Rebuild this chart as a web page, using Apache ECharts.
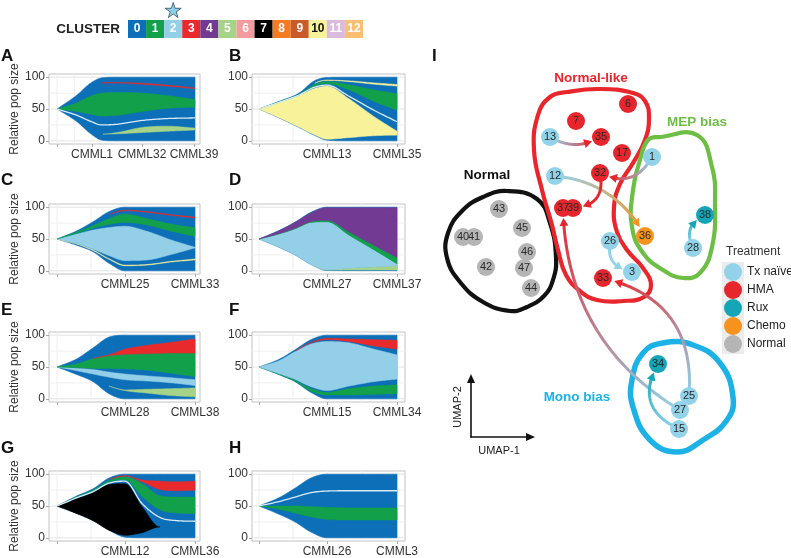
<!DOCTYPE html>
<html><head><meta charset="utf-8">
<script src="https://cdn.jsdelivr.net/npm/echarts@6/dist/echarts.min.js"></script>
<style>html,body{margin:0;padding:0;background:#fff}#c{width:791px;height:558px}</style>
</head><body><div id="c"></div>
<script>
const FONT = "'Liberation Sans', Arial, Helvetica, sans-serif";

// ---- cluster legend ----
const clusterIds = ['0','1','2','3','4','5','6','7','8','9','10','11','12'];
const clusterColors = ['#0d6fb8','#12a04b','#93cfe7','#e82a2c','#733a93','#a5d388','#f39ca0','#000000','#f47b22','#c85b28','#f8f29b','#dcbcdc','#fbbf72'];
const starCluster = '2';

// ---- fish plots: x = position after start, edges = clone boundaries (relative pop size), bottom to top ----
const A_x = [0, 20, 33, 45, 60, 85, 110, 138];
const A_edges = [
  [50, 30, 12, 1, 0, 0, 0, 0],
  [50, 34, 18, 10.5, 11, 13, 15, 17],
  [50, 34, 18, 10.5, 13, 21, 23, 20],
  [50, 40, 31, 25, 26, 32, 35, 36],
  [50, 46, 42, 39, 40, 46, 51, 53],
  [50, 60, 70, 75, 76, 75, 71, 65],
  [50, 66, 83, 91, 91, 89, 86, 82],
  [50, 66, 83, 91, 91.5, 90.5, 87.5, 83],
  [50, 72, 90, 99, 100, 100, 100, 100]
];
const A_fill = [0, 5, 0, 0, 1, 0, 3, 0];
const A_white = [3];
const A_ticks = [0, 35, 85, 137];
const A_labels = ['', 'CMML1', 'CMML32', 'CMML39'];

const B_x = [0, 20, 40, 55, 68, 90, 115, 138];
const B_edges = [
  [50, 36, 21, 9, 1, 0, 0, 0],
  [50, 36.3, 21.5, 9.8, 2.5, 5, 8, 9],
  [50, 60, 71, 82, 86, 66, 38, 15],
  [50, 60.5, 72, 84, 87.5, 70, 48, 30],
  [50, 61, 72.5, 86, 90, 80, 62, 48],
  [50, 61.2, 73, 88, 93, 88, 80, 74],
  [50, 61.5, 73.5, 90, 95, 93, 89, 86],
  [50, 61.5, 73.5, 90, 95.5, 94.2, 91, 88.5],
  [50, 62, 75, 94, 99.5, 100, 100, 100]
];
const B_fill = [0, 10, 0, 0, 1, 0, 10, 0];
const B_white = [3];
const B_ticks = [0, 68, 138];
const B_labels = ['', 'CMML13', 'CMML35'];

const C_x = [0, 20, 36, 52, 68, 90, 115, 138];
const C_edges = [
  [50, 40, 30, 12, 0, 0, 0, 0],
  [50, 42, 32, 18, 8, 9, 14, 17],
  [50, 42.3, 32.6, 19, 9, 10, 15, 18.5],
  [50, 43, 34, 24, 16, 17, 26, 36],
  [50, 58, 64, 68, 70, 62, 48, 37],
  [50, 59, 67, 73, 76, 72, 62, 54],
  [50, 61, 71, 82, 89, 82, 73, 68],
  [50, 62, 74, 88, 94.5, 92, 87, 83],
  [50, 62, 74, 88, 95.3, 93, 88, 84.5],
  [50, 63, 77, 93, 100, 100, 100, 100]
];
const C_fill = [0, 10, 0, 2, 0, 1, 0, 3, 0];
const C_white = [];
const C_ticks = [0, 68, 138];
const C_labels = ['', 'CMML25', 'CMML33'];

const D_x = [0, 20, 36, 52, 68, 90, 115, 138];
const D_edges = [
  [50, 37, 25, 10, 0.5, 0.3, 0.3, 0.3],
  [50, 37, 25, 10, 1.2, 1.2, 1.2, 1.2],
  [50, 37, 25, 10, 1.8, 4, 6, 8],
  [50, 58, 66, 76, 77, 56, 33, 11],
  [50, 58.5, 67, 77.5, 79.5, 61, 40, 21],
  [50, 63, 76, 91, 99.3, 99.3, 99.3, 99.3],
  [50, 63.3, 76.5, 92, 100, 100, 100, 100]
];
const D_fill = [0, 5, 2, 1, 4, 0];
const D_white = [];
const D_ticks = [0, 68, 138];
const D_labels = ['', 'CMML27', 'CMML37'];

const E_x = [0, 20, 36, 52, 68, 90, 115, 138];
const E_edges = [
  [50, 38, 27, 8, 0, 0, 0, 0],
  [50, 40, 30, 20, 13, 9, 5, 3],
  [50, 40, 30, 20, 14, 15, 16, 17],
  [50, 44, 39, 34, 30, 28, 25, 21],
  [50, 48, 46, 42, 39, 36, 33, 30],
  [50, 49, 48, 47.5, 47, 45, 40, 35],
  [50, 55, 63, 68, 70, 71, 72, 72],
  [50, 55, 63, 69, 78, 84, 89, 94],
  [50, 63, 80, 97, 100, 100, 100, 100]
];
const E_fill = [0, 5, 0, 2, 0, 1, 3, 0];
const E_white = [];
const E_ticks = [0, 68, 138];
const E_labels = ['', 'CMML28', 'CMML38'];

const F_x = [0, 20, 36, 52, 68, 90, 115, 138];
const F_edges = [
  [50, 38, 27, 10, 0, 0, 0, 0],
  [50, 38.3, 27.6, 12, 6, 6, 7, 8],
  [50, 39, 29, 16, 10, 16, 20, 22],
  [50, 39.5, 30.5, 19, 13, 20, 27, 31],
  [50, 60, 74, 86, 90, 88, 78, 69],
  [50, 61, 75, 88, 93, 90, 83, 78],
  [50, 61, 75, 88.5, 95, 94, 93, 92],
  [50, 62, 77, 93, 100, 100, 100, 100]
];
const F_fill = [0, 1, 0, 2, 0, 3, 0];
const F_white = [];
const F_ticks = [0, 68, 138];
const F_labels = ['', 'CMML15', 'CMML34'];

const G_x = [0, 20, 36, 52, 68, 85, 103, 120, 138];
const G_edges = [
  [50, 38, 27, 12, 1, 0, 0, 0, 0],
  [50, 38, 27, 12, 4, 8, 17, 17, 17],
  [50, 62, 71, 84, 85, 49, 17, 17, 17],
  [50, 63, 72.5, 86, 89, 54, 32, 27, 26],
  [50, 64, 74, 88, 91, 65, 44, 39, 38],
  [50, 64.5, 75, 90, 96, 85, 66, 64, 64],
  [50, 65, 75.5, 91, 97, 88, 76, 74, 75],
  [50, 65, 75.5, 91, 97.5, 91, 89, 88, 89],
  [50, 66, 77, 94, 100, 100, 100, 100, 100]
];
const G_fill = [0, 7, 0, 0, 1, 0, 3, 0];
const G_white = [3];
const G_ticks = [0, 68, 138];
const G_labels = ['', 'CMML12', 'CMML36'];

const H_x = [0, 20, 36, 52, 68, 90, 115, 138];
const H_edges = [
  [50, 37, 25, 9, 0, 0, 0, 0],
  [50, 45, 39, 33, 29, 28, 28, 28],
  [50, 50, 50, 49, 48, 47, 47, 47],
  [50, 57, 64, 71, 73.5, 74, 74, 74],
  [50, 63, 78, 94, 100, 100, 100, 100]
];
const H_fill = [0, 1, 0, 0];
const H_white = [3];
const H_ticks = [0, 68, 138];
const H_labels = ['', 'CMML26', 'CMML3'];

const yTicks = [0, 50, 100];
const yGrid = [0, 25, 50, 75, 100];

// ---- panel I: UMAP positions of samples by treatment ----
const treatNames = ['Tx naïve', 'HMA', 'Rux', 'Chemo', 'Normal'];
const treatColors = ['#92d3ea', '#e6262c', '#14a6b6', '#f6921e', '#b5b5b5'];
const txNaive = [[550,137,'13'],[652,157,'1'],[555,176,'12'],[610,241,'26'],[632,272,'3'],[693,248,'28'],[689,396,'25'],[680,410,'27'],[679,429,'15']];
const hma = [[628,104,'6'],[576,121,'7'],[601,137,'35'],[622,153,'17'],[600,173,'32'],[563,208,'37'],[573,208,'39'],[603,278,'33']];
const rux = [[705,215,'38'],[658,364,'34']];
const chemo = [[645,236,'36']];
const normal = [[499,209,'43'],[522,228,'45'],[463,237,'40'],[474,237,'41'],[527,252,'46'],[486,267,'42'],[524,268,'47'],[531,288,'44']];
const treatGroups = [txNaive, hma, rux, chemo, normal];

// transitions: from, to, curvature
const arrows = [['13','35',15],['1','32',-26],['12','36',-29],['32','39',-25],['26','3',19],['28','38',-18],['25','33',62],['27','37',-64],['15','34',-37]];

// group outlines
const hullNames = ['Normal', 'Normal-like', 'MEP bias', 'Mono bias'];
const hullColors = ['#111111', '#e8262b', '#6dbe45', '#1cb2e6'];
const normalHull = [[507,191],[537,199],[550,223],[556,257],[553,280],[544,296],[527,307],[510,311],[483,302],[460,282],[447,258],[448,233],[462,211],[483,197]];
const normalLikeHull = [[550,97],[567,92],[600,89],[633,93],[645,101],[649,118],[645,140],[633,163],[620,184],[614,207],[617,232],[627,250],[643,268],[651,285],[644,297],[623,301],[597,300],[580,291],[566,275],[558,250],[552,225],[542,190],[534,150],[538,115]];
const mepHull = [[660,137],[697,135],[712,167],[715,203],[712,247],[700,273],[683,278],[663,270],[643,253],[632,227],[633,190],[640,160],[648,140]];
const monoHull = [[663,343],[693,345],[720,363],[733,397],[727,420],[703,440],[677,452],[650,440],[633,407],[632,380],[643,353]];
const hulls = [normalHull, normalLikeHull, mepHull, monoHull];

// ---------------------------------------------------------------
const panels = [
  {x:A_x, edges:A_edges, fill:A_fill, white:A_white, ticks:A_ticks, labels:A_labels},
  {x:B_x, edges:B_edges, fill:B_fill, white:B_white, ticks:B_ticks, labels:B_labels},
  {x:C_x, edges:C_edges, fill:C_fill, white:C_white, ticks:C_ticks, labels:C_labels},
  {x:D_x, edges:D_edges, fill:D_fill, white:D_white, ticks:D_ticks, labels:D_labels},
  {x:E_x, edges:E_edges, fill:E_fill, white:E_white, ticks:E_ticks, labels:E_labels},
  {x:F_x, edges:F_edges, fill:F_fill, white:F_white, ticks:F_ticks, labels:F_labels},
  {x:G_x, edges:G_edges, fill:G_fill, white:G_white, ticks:G_ticks, labels:G_labels},
  {x:H_x, edges:H_edges, fill:H_fill, white:H_white, ticks:H_ticks, labels:H_labels}
];
const layout = [
  {left:49, top:74, w:151, xmin:-8, xmax:143, title:true},
  {left:252, top:74, w:153, xmin:-7, xmax:146, title:false},
  {left:49, top:204, w:151, xmin:-8, xmax:143, title:true},
  {left:252, top:204, w:153, xmin:-7, xmax:146, title:false},
  {left:49, top:332, w:151, xmin:-8, xmax:143, title:true},
  {left:252, top:332, w:153, xmin:-7, xmax:146, title:false},
  {left:49, top:471, w:151, xmin:-8, xmax:143, title:true},
  {left:252, top:471, w:153, xmin:-7, xmax:146, title:false}
];

function monotone(xs, ys, steps) {
  const n = xs.length, d = [], m = new Array(n);
  for (let i = 0; i < n - 1; i++) d.push((ys[i+1] - ys[i]) / (xs[i+1] - xs[i]));
  m[0] = d[0]; m[n-1] = d[n-2];
  for (let i = 1; i < n - 1; i++) m[i] = (d[i-1] * d[i] <= 0) ? 0 : (d[i-1] + d[i]) / 2;
  for (let i = 0; i < n - 1; i++) {
    if (d[i] === 0) { m[i] = 0; m[i+1] = 0; }
    else {
      const a = m[i] / d[i], b = m[i+1] / d[i], s = a*a + b*b;
      if (s > 9) { const t = 3 / Math.sqrt(s); m[i] = t*a*d[i]; m[i+1] = t*b*d[i]; }
    }
  }
  const out = [];
  for (let i = 0; i < n - 1; i++) {
    const h = xs[i+1] - xs[i];
    for (let k = 0; k < steps; k++) {
      const t = k / steps, t2 = t*t, t3 = t2*t;
      const y = (2*t3 - 3*t2 + 1)*ys[i] + (t3 - 2*t2 + t)*h*m[i] + (-2*t3 + 3*t2)*ys[i+1] + (t3 - t2)*h*m[i+1];
      out.push([xs[i] + t*h, y]);
    }
  }
  out.push([xs[n-1], ys[n-1]]);
  return out;
}

function bandSlice(lo, hi) {
  let i0 = -1, i1 = -1;
  for (let k = 0; k < lo.length; k++) if (hi[k][1] - lo[k][1] > 0.02) { if (i0 < 0) i0 = k; i1 = k; }
  if (i0 < 0) return null;
  i0 = Math.max(0, i0 - 1); i1 = Math.min(lo.length - 1, i1 + 1);
  return hi.slice(i0, i1 + 1).concat(lo.slice(i0, i1 + 1).reverse());
}

const grids = [], xAxes = [], yAxes = [], series = [];
panels.forEach((P, i) => {
  const L = layout[i];
  grids.push({left: L.left, top: L.top, width: L.w, height: 70, show: true, borderColor: '#c2c2c2', borderWidth: 1, backgroundColor: '#fff'});
  xAxes.push({
    gridIndex: i, type: 'value', min: L.xmin, max: L.xmax,
    axisLine: {show: false, onZero: false}, splitLine: {show: false},
    axisTick: {show: true, customValues: P.ticks, length: 3, lineStyle: {color: '#aaa'}},
    axisLabel: {show: true, customValues: P.ticks, margin: 5, fontSize: 12, color: '#333', fontFamily: FONT,
      formatter: v => { const k = P.ticks.indexOf(v); return k >= 0 ? P.labels[k] : ''; }}
  });
  yAxes.push({
    gridIndex: i, type: 'value', min: -5, max: 105,
    axisLine: {show: false, onZero: false}, splitLine: {show: false},
    axisTick: {show: true, customValues: yTicks, length: 3, lineStyle: {color: '#aaa'}},
    axisLabel: {show: true, customValues: yTicks, margin: 4, fontSize: 12, color: '#333', fontFamily: FONT},
    name: L.title ? 'Relative pop size' : '', nameLocation: 'middle', nameGap: 26,
    nameTextStyle: {fontSize: 12, color: '#333', fontFamily: FONT}
  });
  // background grid lines
  series.push({
    type: 'custom', xAxisIndex: i, yAxisIndex: i, silent: true, z: 1, data: [[0, 50]],
    renderItem: (params, api) => {
      const ch = [];
      yGrid.forEach(v => {
        const a = api.coord([L.xmin, v]), b = api.coord([L.xmax, v]);
        ch.push({type: 'line', shape: {x1: a[0], y1: a[1], x2: b[0], y2: b[1]}, style: {stroke: v % 50 === 0 ? '#e4e4e4' : '#f0f0f0', lineWidth: 1}});
      });
      const vx = [];
      P.ticks.forEach((t, k) => { vx.push(t); if (k < P.ticks.length - 1) vx.push((t + P.ticks[k+1]) / 2); });
      vx.forEach(v => {
        const a = api.coord([v, -5]), b = api.coord([v, 105]);
        ch.push({type: 'line', shape: {x1: a[0], y1: a[1], x2: b[0], y2: b[1]}, style: {stroke: '#eeeeee', lineWidth: 1}});
      });
      return {type: 'group', children: ch};
    }
  });
  // fish bands
  series.push({
    type: 'custom', xAxisIndex: i, yAxisIndex: i, silent: true, z: 2, data: [[0, 50]],
    renderItem: (params, api) => {
      const curvesD = P.edges.map(e => monotone(P.x, e, 16));
      const toPx = arr => arr.map(p => api.coord(p));
      const ch = [];
      const env = toPx(curvesD[0].concat(curvesD[curvesD.length - 1].slice().reverse()));
      ch.push({type: 'polygon', shape: {points: env}, style: {fill: clusterColors[0], stroke: clusterColors[0], lineWidth: 0.6}});
      P.fill.forEach((c, k) => {
        if (c === 0) return;
        const poly = bandSlice(curvesD[k], curvesD[k+1]);
        if (!poly) return;
        ch.push({type: 'polygon', shape: {points: toPx(poly)}, style: {fill: clusterColors[c], stroke: clusterColors[c], lineWidth: 0.5}});
      });
      P.white.forEach(k => {
        ch.push({type: 'polyline', shape: {points: toPx(curvesD[k])}, style: {stroke: '#d8ebf6', lineWidth: 1.3, fill: null}});
      });
      return {type: 'group', children: ch};
    }
  });
});

// cluster colour bar (grid 8)
grids.push({left: 128, top: 20, width: 235, height: 18, show: false});
xAxes.push({gridIndex: 8, type: 'category', data: clusterIds, show: false});
yAxes.push({gridIndex: 8, type: 'value', min: 0, max: 1, show: false});
series.push({
  type: 'bar', xAxisIndex: 8, yAxisIndex: 8, barWidth: '100%', barCategoryGap: 0, silent: true,
  data: clusterIds.map((id, k) => ({value: 1, itemStyle: {color: clusterColors[k]}, label: {color: k === 10 ? '#111' : '#fff'}})),
  label: {show: true, position: 'inside', formatter: p => clusterIds[p.dataIndex], fontSize: 12, fontWeight: 'bold', fontFamily: FONT},
  markPoint: {
    silent: true, label: {show: false},
    data: [{coord: [starCluster, 1], symbol: 'path://M50,0 L61,35 L98,35 L68,57 L79,91 L50,70 L21,91 L32,57 L2,35 L39,35 Z',
      symbolSize: [16, 15], symbolOffset: [0, -10], itemStyle: {color: '#8fcfe6', borderColor: '#2f4f66', borderWidth: 0.8}}]
  }
});

// UMAP panel (grid 9)
grids.push({left: 410, top: 40, width: 381, height: 500, show: false});
xAxes.push({gridIndex: 9, type: 'value', min: 410, max: 791, show: false});
yAxes.push({gridIndex: 9, type: 'value', min: 40, max: 540, inverse: true, show: false});

series.push({
  type: 'custom', xAxisIndex: 9, yAxisIndex: 9, silent: true, z: 3,
  data: hulls.map((h, k) => [h[0][0], h[0][1], k]),
  renderItem: (params, api) => {
    const k = params.dataIndex;
    const pts = hulls[k].map(p => api.coord(p));
    return {type: 'polygon', shape: {points: pts, smooth: 0.45},
      style: {fill: null, stroke: hullColors[k], lineWidth: k === 3 ? 5.5 : 4.2}};
  }
});

const nodeLookup = {}, nodeColor = {};
treatGroups.forEach((g, k) => g.forEach(n => { nodeLookup[n[2]] = [n[0], n[1]]; nodeColor[n[2]] = treatColors[k]; }));

series.push({
  type: 'custom', xAxisIndex: 9, yAxisIndex: 9, silent: true, z: 4,
  data: arrows.map(a => [nodeLookup[a[0]][0], nodeLookup[a[0]][1]]),
  renderItem: (params, api) => {
    const a = arrows[params.dataIndex];
    const p0 = api.coord(nodeLookup[a[0]]), p2 = api.coord(nodeLookup[a[1]]);
    const dx = p2[0] - p0[0], dy = p2[1] - p0[1], len = Math.hypot(dx, dy);
    const nx = -dy / len, ny = dx / len;
    const c = [(p0[0] + p2[0]) / 2 + nx * a[2], (p0[1] + p2[1]) / 2 + ny * a[2]];
    const pts = [];
    for (let k = 0; k <= 80; k++) {
      const t = k / 80, u = 1 - t;
      pts.push([u*u*p0[0] + 2*u*t*c[0] + t*t*p2[0], u*u*p0[1] + 2*u*t*c[1] + t*t*p2[1]]);
    }
    const r = 9, head = 8;
    const dist = (p, q) => Math.hypot(p[0] - q[0], p[1] - q[1]);
    const line = pts.filter(p => dist(p, p0) > r - 3 && dist(p, p2) > r + head - 1);
    let tip = pts[pts.length - 1];
    for (let k = pts.length - 1; k >= 0; k--) { if (dist(pts[k], p2) > r + 0.5) { tip = pts[k]; break; } }
    let base = pts[0];
    for (let k = pts.length - 1; k >= 0; k--) { if (dist(pts[k], p2) > r + head) { base = pts[k]; break; } }
    const ux = tip[0] - base[0], uy = tip[1] - base[1], ul = Math.hypot(ux, uy) || 1;
    const bx = tip[0] - ux / ul * head, by = tip[1] - uy / ul * head;
    const px = -uy / ul * 4.5, py = ux / ul * 4.5;
    const grad = new echarts.graphic.LinearGradient(p0[0], p0[1], p2[0], p2[1],
      [{offset: 0, color: nodeColor[a[0]]}, {offset: 1, color: nodeColor[a[1]]}], true);
    return {type: 'group', children: [
      {type: 'polyline', shape: {points: line}, style: {stroke: grad, lineWidth: 3, fill: null, lineCap: 'round'}},
      {type: 'polygon', shape: {points: [[tip[0], tip[1]], [bx + px, by + py], [bx - px, by - py]]}, style: {fill: nodeColor[a[1]]}}
    ]};
  }
});

treatGroups.forEach((g, k) => {
  series.push({
    type: 'scatter', name: treatNames[k], xAxisIndex: 9, yAxisIndex: 9, z: 5, silent: true,
    symbolSize: 18, itemStyle: {color: treatColors[k], opacity: 1},
    label: {show: true, position: 'inside', formatter: '{b}', fontSize: 11, color: '#2a2a2a', fontFamily: FONT},
    data: g.map(n => ({name: n[2], value: [n[0], n[1]]}))
  });
});

const letterPos = [[1,56,'A'],[229,56,'B'],[1,180,'C'],[229,180,'D'],[1,310,'E'],[229,310,'F'],[1,448,'G'],[229,448,'H'],[432,56,'I']];
const graphic = [];
letterPos.forEach(p => graphic.push({type: 'text', x: p[0], y: p[1], style: {text: p[2], fontSize: 17, fontWeight: 'bold', fontFamily: FONT, fill: '#111', verticalAlign: 'middle'}}));
graphic.push({type: 'text', x: 120, y: 29, style: {text: 'CLUSTER', fontSize: 13.5, fontWeight: 'bold', fontFamily: FONT, fill: '#222', align: 'right', verticalAlign: 'middle'}});
const hullLabelPos = [[487,175],[591,78],[697,122],[577,397]];
hullLabelPos.forEach((p, k) => graphic.push({type: 'text', x: p[0], y: p[1], z: 10, style: {text: hullNames[k], fontSize: 13.5, fontWeight: 'bold', fontFamily: FONT, fill: hullColors[k], align: 'center', verticalAlign: 'middle'}}));
graphic.push({type: 'text', x: 726, y: 252, style: {text: 'Treatment', fontSize: 12, fontFamily: FONT, fill: '#333', verticalAlign: 'middle'}});
graphic.push({type: 'rect', shape: {x: 722, y: 262, width: 22, height: 92}, style: {fill: '#ececec'}, z: 0});
// UMAP direction arrows
graphic.push({type: 'line', shape: {x1: 471, y1: 437.5, x2: 471, y2: 380}, style: {stroke: '#111', lineWidth: 1.6}});
graphic.push({type: 'polygon', shape: {points: [[467, 383], [471, 374], [475, 383]]}, style: {fill: '#111'}});
graphic.push({type: 'line', shape: {x1: 470.2, y1: 437, x2: 528, y2: 437}, style: {stroke: '#111', lineWidth: 1.6}});
graphic.push({type: 'polygon', shape: {points: [[526, 433], [535, 437], [526, 441]]}, style: {fill: '#111'}});
graphic.push({type: 'text', x: 458, y: 407, rotation: Math.PI / 2, style: {text: 'UMAP-2', fontSize: 11, fontFamily: FONT, fill: '#222', align: 'center', verticalAlign: 'middle'}});
graphic.push({type: 'text', x: 499, y: 451, style: {text: 'UMAP-1', fontSize: 11, fontFamily: FONT, fill: '#222', align: 'center', verticalAlign: 'middle'}});

const option = {
  animation: false,
  textStyle: {fontFamily: FONT},
  grid: grids, xAxis: xAxes, yAxis: yAxes, series: series, graphic: graphic,
  legend: {
    data: treatNames, orient: 'vertical', left: 724, top: 263, itemWidth: 18, itemHeight: 18, itemGap: 0,
    icon: 'circle', selectedMode: false, padding: 0,
    textStyle: {fontSize: 12, color: '#222', fontFamily: FONT}
  }
};
const chart = echarts.init(document.getElementById('c'), null, {renderer: 'canvas'});
chart.setOption(option);
</script></body></html>
